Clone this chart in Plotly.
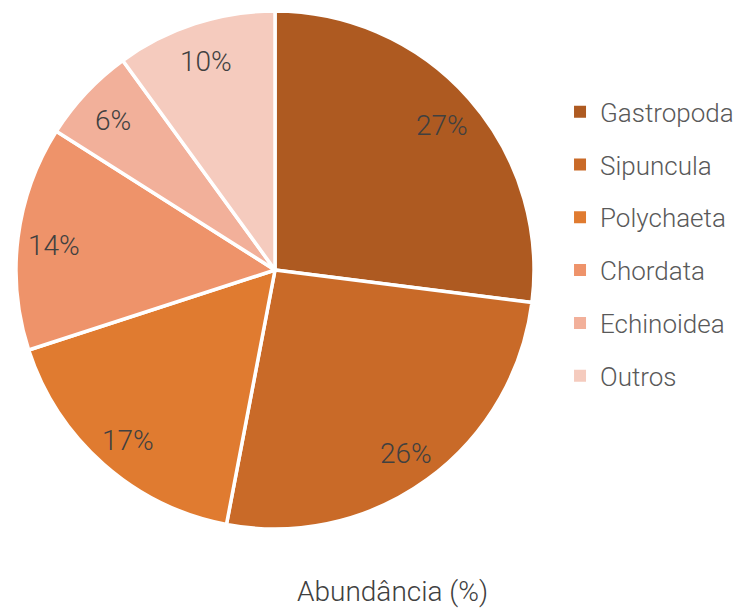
import math
import plotly.graph_objects as go

categories = ["Gastropoda", "Sipuncula", "Polychaeta", "Chordata", "Echinoidea", "Outros"]
values = [27, 26, 17, 14, 6, 10]
colors = ["#AE5A21", "#C96A28", "#E07B30", "#EE936A", "#F2B09A", "#F5CBBE"]

FONT = "Roboto"
TXT = "#404040"
W, H = 748, 613

# pie geometry (pixels, as seen in the page)
CX, CY, R = 275, 270, 259
SHIFT = 8  # page body margin offsets the figure by 8px

fig = go.Figure()
fig.add_trace(go.Pie(
    labels=categories, values=values, sort=False, direction="clockwise", rotation=0,
    marker=dict(colors=colors, line=dict(color="white", width=3.5)),
    textinfo="none", hoverinfo="label+percent",
    domain=dict(x=[(CX - SHIFT - R) / W, (CX - SHIFT + R) / W],
                y=[1 - (CY - SHIFT + R) / H, 1 - (CY - SHIFT - R) / H]),
    showlegend=False,
))
for c, col in zip(categories, colors):
    fig.add_trace(go.Scatter(
        x=[None], y=[None], mode="markers", name=c, legendgroup=c,
        marker=dict(symbol="square", size=12, color=col),
    ))

# percentage labels placed at ~0.86 radius in each slice middle
total = sum(values)
annotations = []
cum = 0
for v in values:
    theta = 2 * math.pi * (cum + v / 2) / total
    cum += v
    px = CX + 0.86 * R * math.sin(theta) - SHIFT
    py = CY - 0.86 * R * math.cos(theta) - SHIFT + 3
    annotations.append(dict(text=f"{round(100 * v / total)}%", x=px / W, y=1 - py / H,
                            xref="paper", yref="paper", xanchor="center", yanchor="middle",
                            showarrow=False, font=dict(family=FONT, size=28, color=TXT, weight=300)))
annotations.append(dict(text="Abundância (%)", x=(392 - SHIFT) / W, y=1 - (591 - SHIFT) / H,
                        xref="paper", yref="paper", xanchor="center", yanchor="middle",
                        showarrow=False, font=dict(family=FONT, size=28, color=TXT, weight=300)))

fig.update_layout(
    width=W, height=H, margin=dict(l=0, r=0, t=0, b=0),
    paper_bgcolor="white", plot_bgcolor="white",
    xaxis=dict(visible=False), yaxis=dict(visible=False),
    legend=dict(x=0.738, y=0.869, xanchor="left", yanchor="top", tracegroupgap=16,
                font=dict(family=FONT, size=26, color="#595959", weight=300),
                itemwidth=30, bgcolor="rgba(0,0,0,0)"),
    annotations=annotations,
)
fig.write_html("out.html")
